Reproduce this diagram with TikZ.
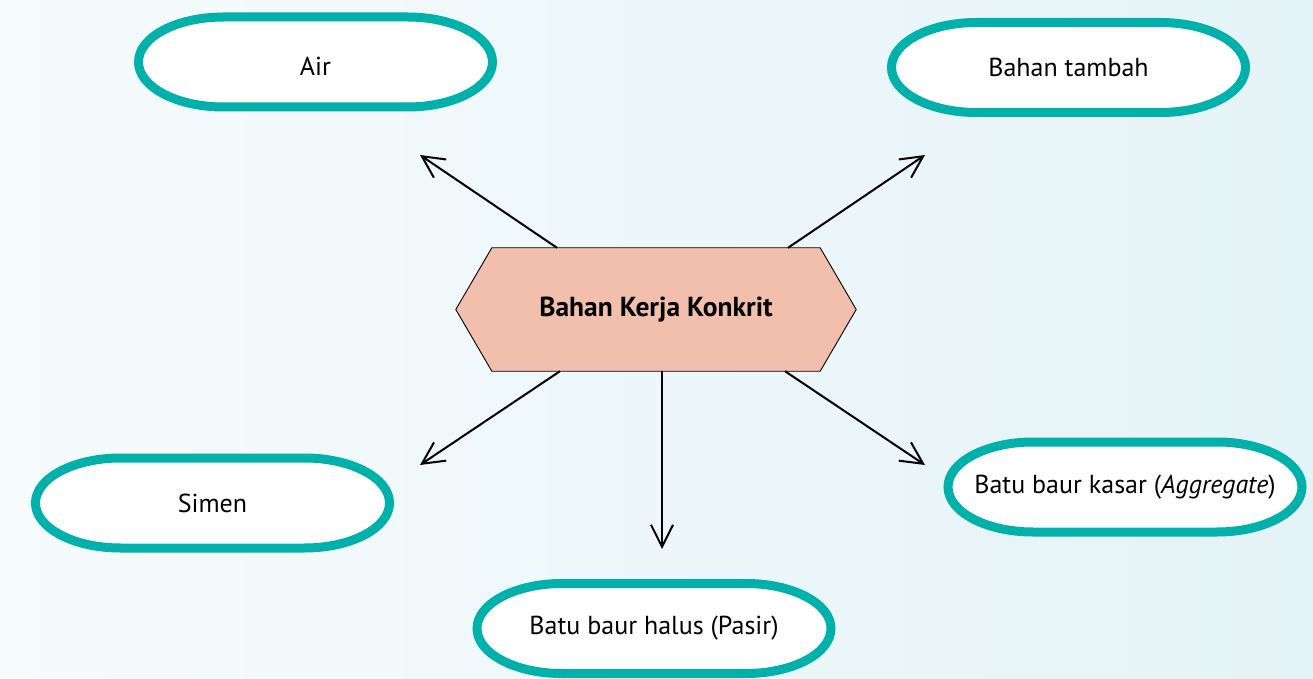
\documentclass[tikz,border=0pt]{standalone}
\usepackage{fontspec}
\setmainfont{PT Sans}
\usetikzlibrary{arrows.meta,calc}
\definecolor{pillteal}{RGB}{0,176,170}
\definecolor{hubfill}{RGB}{242,191,172}
\definecolor{bgleft}{RGB}{246,251,252}
\definecolor{bgright}{RGB}{228,243,247}
\pgfdeclarelayer{background}
\pgfsetlayers{background,main}
\tikzset{
  label text/.style={font=\fontsize{26}{30}\selectfont, text=black},
  pill/.style={label text, minimum width=354pt, minimum height=90pt, inner sep=0pt},
  pill outline/.style={draw=pillteal, line width=9pt, fill=white},
  hub/.style={minimum width=328pt, minimum height=123pt, inner sep=0pt,
    font=\fontsize{27.5}{32}\selectfont\bfseries},
  hub outline/.style={draw=black, line width=0.9pt, fill=hubfill},
  feed/.style={draw=black, line width=2pt,
    -{Straight Barb[length=22pt,width=22pt]}},
}
% white pill with teal rim and elliptic ends, drawn behind its label
\newcommand\pillnode[4][]{%
  \node[pill,#1] (#2) at (#3) {#4};
  \begin{pgfonlayer}{background}
    \draw[pill outline] ($(#2.center)+(-92,45)$)
      arc[start angle=90, end angle=270, x radius=85pt, y radius=45pt]
      -- ($(#2.center)+(92,-45)$)
      arc[start angle=-90, end angle=90, x radius=85pt, y radius=45pt]
      -- cycle;
  \end{pgfonlayer}}
\begin{document}
\begin{tikzpicture}[x=1pt,y=1pt]
  \begin{pgfonlayer}{background}
    \shade[left color=bgleft, right color=bgright] (0,0) rectangle (1313,678);
  \end{pgfonlayer}
  \useasboundingbox (0,0) rectangle (1313,678);

  % central hexagon
  \node[hub] (hub) at (656,368.5) {Bahan Kerja Konkrit};
  \begin{pgfonlayer}{background}
    \draw[hub outline] (hub.north west) -- (hub.north east)
      -- ($(hub.east)+(36,0)$) -- (hub.south east) -- (hub.south west)
      -- ($(hub.west)+(-36,0)$) -- cycle;
  \end{pgfonlayer}

  % surrounding ingredients
  \pillnode[text height=28pt, text depth=0pt]{air}{315.5,616}{Air}
  \pillnode{tambah}{1068.5,610.5}{Bahan tambah}
  \pillnode{simen}{212.5,175}{Simen}
  \pillnode{kasar}{1125,191}{Batu baur kasar (\textit{Aggregate})}
  \pillnode{halus}{654,49.5}{Batu baur halus (Pasir)}

  % arrow tips
  \coordinate (tipair) at (420,523);
  \coordinate (tiptambah) at (925,523);
  \coordinate (tipsimen) at (420,213);
  \coordinate (tiphalus) at (662,129);
  \coordinate (tipkasar) at (925,213);

  \draw[feed] ($(hub.north)+(-99,0)$) -- (tipair);
  \draw[feed] ($(hub.north)+(132,0)$) -- (tiptambah);
  \draw[feed] ($(hub.south)+(-96,0)$) -- (tipsimen);
  \draw[feed] ($(hub.south)+(6,0)$) -- (tiphalus);
  \draw[feed] ($(hub.south)+(129,0)$) -- (tipkasar);
\end{tikzpicture}
\end{document}
